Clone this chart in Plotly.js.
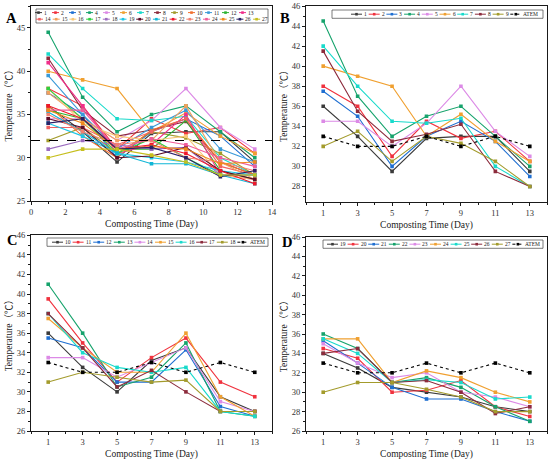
<!DOCTYPE html>
<html>
<head>
<meta charset="utf-8">
<script src="https://cdn.plot.ly/plotly-3.0.1.min.js"></script>
<style>html,body{margin:0;padding:0;background:#fff;}#chart{width:550px;height:464px;}</style>
</head>
<body>
<div id="chart"></div>
<script>
// ---------------- data ----------------
const days = [1, 3, 5, 7, 9, 11, 13];
const pileNames = ['1','2','3','4','5','6','7','8','9','10','11','12','13','14','15','16','17','18','19','20','21','22','23','24','25','26','27'];
const atemName = 'ATEM';
const atem = [33, 32, 32, 33, 32, 33, 32];
const referenceTemp = 32;

const pile01 = [36, 33, 29.5, 32.8, 33, 33, 29.5];
const pile02 = [38, 36, 31, 34.5, 32.8, 33.5, 30.5];
const pile03 = [37.5, 35, 30, 33, 34.5, 32.5, 29];
const pile04 = [44.5, 37, 33, 35, 36, 33, 30];
const pile05 = [34.5, 34.5, 32, 34.3, 38, 33.5, 31];
const pile06 = [40, 39, 38, 33, 35.2, 32.5, 30.5];
const pile07 = [42, 38, 34.5, 34.3, 34.8, 30, 28];
const pile08 = [41.5, 35.5, 32.5, 33.2, 34.2, 29.5, 28];
const pile09 = [32, 33.5, 30.5, 33, 32.3, 30.5, 28];

const pile10 = [36, 32.5, 30, 33.2, 34.5, 29.5, 28];
const pile11 = [39.5, 35, 31, 33.5, 35.5, 31, 29.5];
const pile12 = [35.5, 34.5, 31, 31, 34.3, 28.5, 27.5];
const pile13 = [41, 36, 30.5, 31.5, 35, 28, 27.5];
const pile14 = [33.5, 33.5, 31.5, 33, 34.5, 29, 28];
const pile15 = [37.5, 34.5, 32, 32, 36, 29.5, 27.5];
const pile16 = [38, 34, 32.5, 32, 32.5, 28, 27.5];
const pile17 = [38, 34.5, 30.5, 32.2, 30, 28, 28];
const pile18 = [31, 32, 31.5, 31, 31.2, 28, 28];

const pile19 = [34, 32.5, 30.5, 30, 29.5, 28.5, 28];
const pile20 = [34.5, 33.5, 30, 30.2, 31.2, 28.5, 27.5];
const pile21 = [35.3, 33, 30.5, 29.3, 29.3, 28, 27];
const pile22 = [36, 34.5, 31, 31.5, 30.5, 28.5, 27];
const pile23 = [35, 33, 31.5, 32, 30, 29.5, 28.5];
const pile24 = [35.5, 35.5, 31, 32.2, 31.5, 30, 29];
const pile25 = [35.5, 34, 31, 31.3, 31, 29.3, 29.5];
const pile26 = [34, 34.5, 31, 31.2, 30, 27.8, 28.5];
const pile27 = [30, 31, 31, 30.3, 29.5, 28, 28];

const allPiles = [pile01,pile02,pile03,pile04,pile05,pile06,pile07,pile08,pile09,
  pile10,pile11,pile12,pile13,pile14,pile15,pile16,pile17,pile18,
  pile19,pile20,pile21,pile22,pile23,pile24,pile25,pile26,pile27];

// ---------------- styles ----------------
const colorsA = ['#3a3a3a','#f0323e','#1f6fd1','#16a36c','#dc8ae6','#f0a030','#18dacb','#8c2b3c','#a39b2c',
  '#f2702e','#3a9ad8','#2eb432','#f02e8a','#f06262','#f2a05c','#f8c878','#2ed040','#9c6cc0',
  '#1ec6e6','#5a0c28','#10b6d6','#f0182a','#f28070','#f05c9a','#f08a1e','#2a2066','#c6bf1e'];
const colorsGroup = ['#3a3a3a','#f0323e','#1f6fd1','#16a36c','#dc8ae6','#f0a030','#18dacb','#8c2b3c','#a39b2c'];

const W = 550, H = 464;
const fx = v => v / W;
const fy = v => 1 - v / H;
const SERIF = 'Liberation Serif, Times New Roman, serif';
const TITLEFONT = 'Liberation Serif, Noto Sans CJK SC, serif';
const INK = '#1a1a1a';
const TICKINK = '#333333';

// panel frames in pixels: [left, right, top, bottom]
const frames = {
  A: [31, 272, 5.5, 201],
  B: [306, 547, 6, 201.5],
  C: [31, 272, 235.3, 431],
  D: [306, 547, 237, 431]
};

const traces = [];
function addLine(xa, ya, y, color, dash) {
  traces.push({
    type: 'scatter', mode: 'lines+markers', x: days, y: y,
    xaxis: xa, yaxis: ya, showlegend: false, hoverinfo: 'skip',
    line: {color: color, width: 1.1, dash: dash || 'solid'},
    marker: {symbol: 'square', size: 3.6, color: color}
  });
}
// Panel A: all piles
allPiles.forEach((p, i) => addLine('x', 'y', p, colorsA[i]));
// Panels B, C, D: groups of nine plus ATEM
const groups = [['x2','y2',0], ['x3','y3',9], ['x4','y4',18]];
groups.forEach(([xa, ya, start]) => {
  for (let k = 0; k < 9; k++) addLine(xa, ya, allPiles[start + k], colorsGroup[k]);
  addLine(xa, ya, atem, '#000000', 'dot');
});

function axisX(fr, anchor, isA) {
  const a = {
    domain: [fx(fr[0]), fx(fr[1])], anchor: anchor, range: [0, 14], autorange: false,
    showline: true, mirror: true, linecolor: INK, linewidth: 1,
    ticks: 'outside', ticklen: 3, tickwidth: 1, tickcolor: INK,
    tickfont: {family: SERIF, size: 8.5, color: TICKINK},
    showgrid: false, zeroline: false,
    title: {text: 'Composting Time (Day)', font: {family: SERIF, size: 9.5, color: INK}, standoff: 4}
  };
  if (isA) { a.tick0 = 0; a.dtick = 2; a.minor = {dtick: 1, ticks: 'outside', ticklen: 2, tickcolor: INK, showgrid: false}; }
  else { a.tick0 = 1; a.dtick = 2; a.minor = {tick0: 0, dtick: 1, ticks: 'outside', ticklen: 2, tickcolor: INK, showgrid: false}; }
  return a;
}
function axisY(fr, anchor, range, dtick, minorD) {
  return {
    domain: [fy(fr[3]), fy(fr[2])], anchor: anchor, range: range, autorange: false,
    showline: true, mirror: true, linecolor: INK, linewidth: 1,
    ticks: 'outside', ticklen: 3, tickwidth: 1, tickcolor: INK,
    tickfont: {family: SERIF, size: 8.5, color: TICKINK},
    showgrid: false, zeroline: false, tick0: 0, dtick: dtick,
    minor: {dtick: minorD, ticks: 'outside', ticklen: 2, tickcolor: INK, showgrid: false},
    title: {text: 'Temperature（℃）', font: {family: TITLEFONT, size: 9.5, color: INK}, standoff: 2}
  };
}

const shapes = [];
const annotations = [];
// reference line in panel A
shapes.push({type: 'line', xref: 'x domain', yref: 'y', x0: 0, x1: 1, y0: referenceTemp, y1: referenceTemp,
  line: {color: '#000', width: 1.1, dash: 'dash'}});

// custom legends (pixel layout)
function legendBox(x0, x1, y0, y1) {
  shapes.push({type: 'rect', xref: 'paper', yref: 'paper', x0: fx(x0), x1: fx(x1), y0: fy(y1), y1: fy(y0),
    line: {color: '#444', width: 0.7}, fillcolor: '#fff', layer: 'above'});
}
function legendEntry(labelX, rowY, lineLen, name, color, dash) {
  const lx0 = labelX - lineLen - 2, lx1 = labelX - 2;
  shapes.push({type: 'line', xref: 'paper', yref: 'paper', x0: fx(lx0), x1: fx(lx1), y0: fy(rowY), y1: fy(rowY),
    line: {color: color, width: 1, dash: dash || 'solid'}});
  const mx = (lx0 + lx1) / 2;
  shapes.push({type: 'rect', xref: 'paper', yref: 'paper', x0: fx(mx - 1.3), x1: fx(mx + 1.3), y0: fy(rowY + 1.3), y1: fy(rowY - 1.3),
    line: {width: 0}, fillcolor: color});
  annotations.push({xref: 'paper', yref: 'paper', x: fx(labelX - 1), y: fy(rowY), text: name, showarrow: false,
    xanchor: 'left', yanchor: 'middle', borderpad: 0, font: {family: SERIF, size: 5.5, color: INK}});
}
// Legend A: two rows
legendBox(36, 268, 9, 23);
for (let i = 0; i < 13; i++) legendEntry(44 + 17 * i, 12.6, 7, pileNames[i], colorsA[i]);
for (let i = 13; i < 27; i++) legendEntry(45 + 16.7 * (i - 13), 19.2, 7, pileNames[i], colorsA[i]);
// Legends B, C, D
const grpLegend = [
  {box: [332, 543, 10, 18.3], first: 364, step: 17.7, row: 14.2, start: 0},
  {box: [47, 268, 238, 246.3], first: 65, step: 20.6, row: 242.2, start: 9},
  {box: [323, 543, 240, 248.3], first: 340, step: 20.6, row: 244.2, start: 18}
];
grpLegend.forEach(g => {
  legendBox(g.box[0], g.box[1], g.box[2], g.box[3]);
  for (let k = 0; k < 9; k++) legendEntry(g.first + g.step * k, g.row, 11, pileNames[g.start + k], colorsGroup[k]);
  legendEntry(g.first + g.step * 9, g.row, 11, atemName, '#000000', 'dot');
});

// panel letters
const letters = [['A', 11.5, 17.5], ['B', 285, 17.5], ['C', 11.5, 240.5], ['D', 286.5, 241.5]];
letters.forEach(([t, x, y]) => annotations.push({xref: 'paper', yref: 'paper', x: fx(x), y: fy(y), text: '<b>' + t + '</b>',
  showarrow: false, xanchor: 'center', yanchor: 'middle', font: {family: SERIF, size: 14.5, color: '#000'}}));

const layout = {
  width: W, height: H, margin: {l: 0, r: 0, t: 0, b: 0},
  paper_bgcolor: '#fff', plot_bgcolor: '#fff', showlegend: false,
  xaxis: axisX(frames.A, 'y', true),
  yaxis: axisY(frames.A, 'x', [25, 47.6], 5, 2.5),
  xaxis2: axisX(frames.B, 'y2', false),
  yaxis2: axisY(frames.B, 'x2', [26.5, 46], 2, 1),
  xaxis3: axisX(frames.C, 'y3', false),
  yaxis3: axisY(frames.C, 'x3', [26, 46], 2, 1),
  xaxis4: axisX(frames.D, 'y4', false),
  yaxis4: axisY(frames.D, 'x4', [26, 46], 2, 1),
  shapes: shapes, annotations: annotations
};

Plotly.newPlot('chart', traces, layout, {staticPlot: true, displayModeBar: false});
</script>
</body>
</html>
